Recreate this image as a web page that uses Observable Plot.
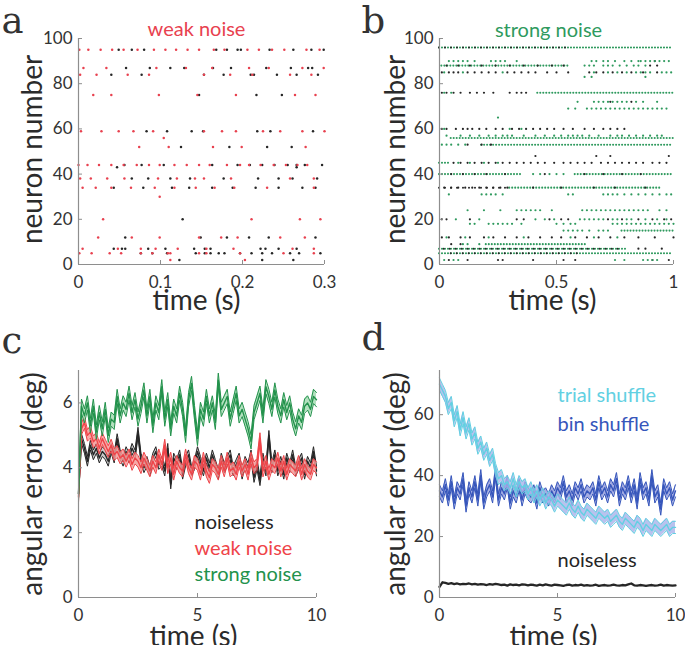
<!DOCTYPE html>
<html><head><meta charset="utf-8">
<script src="https://cdn.jsdelivr.net/npm/d3@7"></script>
<script src="https://cdn.jsdelivr.net/npm/@observablehq/plot@0.6"></script>
<style>
html,body{margin:0;padding:0;background:#fff;}
#fig{position:relative;width:685px;height:645px;overflow:hidden;background:#fff;}
.panel{position:absolute;}
.panel svg{max-width:none;display:block;}
</style></head><body><div id="fig"></div>
<script>
// ---------- Panel a: raster, weak noise (time 0..0.3 s) ----------
const aNeurons = [95, 87, 84, 75, 59, 56, 52, 44, 43, 38, 34, 30, 20, 12, 7, 5, 2];
const aBlack = [
  [0.049, 0.065, 0.080, 0.168, 0.181, 0.194, 0.198, 0.233, 0.262, 0.284, 0.299],
  [0.058, 0.087, 0.112, 0.129, 0.164, 0.186, 0.229, 0.259, 0.280, 0.285],
  [0.040, 0.077, 0.153, 0.177, 0.210, 0.214, 0.242, 0.266, 0.292],
  [0.147, 0.217, 0.248],
  [0.083, 0.108, 0.138, 0.152, 0.218, 0.234, 0.286],
  [],
  [0.125, 0.184, 0.230, 0.260],
  [0.056, 0.077, 0.104, 0.163, 0.194, 0.209, 0.224, 0.239, 0.255, 0.266, 0.276, 0.297],
  [0.047, 0.266],
  [0.065, 0.085, 0.112, 0.136, 0.177, 0.219, 0.244, 0.261, 0.291],
  [0.043, 0.079, 0.114, 0.135, 0.163, 0.188, 0.216, 0.244, 0.273, 0.289],
  [],
  [0.127],
  [0.057, 0.149, 0.181, 0.208, 0.232, 0.289],
  [0.043, 0.053, 0.057, 0.085, 0.106, 0.141, 0.154, 0.161, 0.222, 0.228, 0.244, 0.266],
  [0.076, 0.090, 0.108, 0.143, 0.154, 0.161, 0.171, 0.178, 0.197, 0.211, 0.224, 0.236, 0.258, 0.269, 0.295],
  [0.123, 0.224, 0.262]
];
const aRed = [
  [0.001, 0.012, 0.027, 0.041, 0.055, 0.072, 0.092, 0.106, 0.119, 0.133, 0.147, 0.165, 0.178, 0.206, 0.220, 0.236, 0.251, 0.278, 0.294],
  [0.006, 0.034, 0.095, 0.131, 0.163, 0.208, 0.232, 0.273, 0.299],
  [0.002, 0.022, 0.060, 0.086, 0.153, 0.185, 0.212, 0.258, 0.284],
  [0.018, 0.040, 0.098, 0.145, 0.192, 0.264, 0.289],
  [0.003, 0.028, 0.049, 0.067, 0.091, 0.153, 0.175, 0.192, 0.225, 0.246, 0.273, 0.300],
  [0.104],
  [0.074, 0.110, 0.164, 0.199, 0.277],
  [0.000, 0.011, 0.025, 0.040, 0.055, 0.071, 0.086, 0.099, 0.117, 0.132, 0.147, 0.160, 0.181, 0.197, 0.208, 0.222, 0.238, 0.253, 0.267, 0.279],
  [],
  [0.002, 0.015, 0.035, 0.056, 0.097, 0.120, 0.142, 0.153, 0.186, 0.258, 0.287],
  [0.005, 0.021, 0.040, 0.064, 0.093, 0.117, 0.143, 0.166, 0.190, 0.230, 0.287],
  [0.099],
  [0.030, 0.211, 0.270, 0.295],
  [0.024, 0.065, 0.099, 0.147, 0.174, 0.194, 0.246, 0.276],
  [0.005, 0.048, 0.076, 0.094, 0.121, 0.156, 0.189, 0.261, 0.287],
  [0.001, 0.016, 0.038, 0.052, 0.076, 0.090, 0.109, 0.112, 0.147, 0.156, 0.197, 0.250, 0.287],
  [0.112, 0.203]
];
const aTicksX = [0, 0.1, 0.2, 0.3];
const rasterTicksY = [0, 20, 40, 60, 80, 100];

// ---------- Panel b: raster, strong noise (time 0..1 s) ----------
const bNeurons = [96, 90, 88, 85, 83, 76, 72, 69, 65, 60, 57, 56, 53, 48, 45, 40, 34, 31, 24, 20, 18, 15, 12, 9, 7, 5, 2];
const bGreen = [
  [],
  [0.04, 0.06, 0.08, 0.10, 0.12, 0.15, 0.22, 0.24, 0.26, 0.28, 0.33, 0.65, 0.67, 0.70, 0.72, 0.75, 0.79, 0.82, 0.85, 0.86, 0.88, 0.90, 0.92, 0.94, 0.96, 0.98],
  [0.62, 0.64, 0.66, 0.70, 0.72, 0.74, 0.77, 0.80, 0.83, 0.85, 0.88],
  [0.02, 0.10, 0.27, 0.66, 0.72, 0.76, 0.80, 0.84, 0.86, 0.88, 0.90, 0.95, 0.97, 0.99],
  [0.62, 0.65, 0.88],
  [0.02, 0.05],
  [0.59, 0.66, 0.68, 0.70, 0.72, 0.74, 0.76, 0.78, 0.80, 0.84, 0.87, 0.93],
  [0.55, 0.58, 0.63, 0.65, 0.67, 0.69, 0.71, 0.73, 0.75, 0.77, 0.79, 0.81, 0.83, 0.85, 0.87, 0.89, 0.91, 0.93, 0.95, 0.97],
  [0.25],
  [0.02, 0.30, 0.35],
  [0.03, 0.09, 0.13, 0.17, 0.21, 0.24, 0.27, 0.29, 0.31, 0.36, 0.41, 0.45, 0.49, 0.52, 0.55, 0.57, 0.59, 0.61, 0.64, 0.68, 0.73, 0.76, 0.78, 0.81, 0.84, 0.87, 0.90, 0.93, 0.95],
  [],
  [0.01, 0.03, 0.05, 0.08, 0.11],
  [],
  [0.08, 0.13, 0.19, 0.25],
  [0.40, 0.43, 0.47, 0.50, 0.53],
  [],
  [0.04, 0.18, 0.20, 0.22, 0.24, 0.27, 0.55, 0.57, 0.70, 0.72, 0.74, 0.76, 0.79, 0.82, 0.85, 0.88, 0.91, 0.94, 0.97, 0.99],
  [0.12, 0.19, 0.26, 0.33, 0.35, 0.37, 0.39, 0.41, 0.43, 0.48, 0.61, 0.63, 0.65, 0.67, 0.69, 0.71, 0.73, 0.75, 0.77, 0.79, 0.81, 0.83, 0.85, 0.87, 0.89, 0.94, 0.97],
  [0.07, 0.17, 0.41, 0.45, 0.49, 0.60, 0.62, 0.64, 0.66, 0.68, 0.70, 0.74, 0.76, 0.80, 0.82, 0.88, 0.93, 0.97],
  [0.13, 0.15, 0.21, 0.23, 0.25, 0.27, 0.29, 0.31, 0.35, 0.50, 0.53, 0.56, 0.58, 0.74, 0.76, 0.78, 0.80, 0.82, 0.84, 0.86, 0.88, 0.90, 0.92, 0.94, 0.96, 0.98, 1.0],
  [0.53, 0.55, 0.57, 0.59, 0.61, 0.64, 0.68, 0.70, 0.72],
  [0.03, 0.11, 0.21, 0.36, 0.56, 0.66, 0.76],
  [0.10, 0.12, 0.17],
  [],
  [],
  [0.02, 0.06, 0.08, 0.75, 0.79, 0.87, 0.89, 0.91, 0.93]
];
const bBlack = [
  [],
  [0.92],
  [0.03, 0.08, 0.13, 0.18, 0.24, 0.30, 0.36, 0.42, 0.48, 0.53, 0.90, 0.93],
  [0.01, 0.04, 0.06, 0.08, 0.12, 0.15, 0.18, 0.21, 0.24, 0.29, 0.32, 0.35, 0.38, 0.41, 0.46, 0.50, 0.55, 0.64, 0.67, 0.70, 0.74, 0.78, 0.82, 0.87, 0.93],
  [],
  [0.01, 0.03, 0.06, 0.09, 0.13, 0.16, 0.19, 0.23, 0.30, 0.33, 0.35, 0.37],
  [0.73, 0.82],
  [],
  [],
  [0.01, 0.03, 0.07, 0.10, 0.12, 0.14, 0.17, 0.20, 0.24, 0.27, 0.31, 0.34, 0.37, 0.40, 0.43, 0.46, 0.49, 0.53, 0.57, 0.62, 0.66, 0.70, 0.73, 0.76, 0.79],
  [],
  [],
  [0.12, 0.18, 0.22],
  [0.41, 0.67, 0.73, 0.98],
  [0.06, 0.09, 0.12, 0.15, 0.18, 0.21, 0.24, 0.27, 0.30, 0.33, 0.36, 0.39, 0.42, 0.45, 0.49, 0.53, 0.56, 0.59, 0.62, 0.65, 0.69, 0.72, 0.75, 0.78, 0.81, 0.84, 0.87, 0.91, 0.94, 0.97],
  [0.05, 0.10, 0.15, 0.20, 0.28, 0.45, 0.62, 0.70, 0.78, 0.86],
  [0.02, 0.05, 0.08, 0.11, 0.14, 0.17, 0.20, 0.23, 0.26, 0.29, 0.40, 0.52, 0.66, 0.75, 0.88],
  [],
  [],
  [0.01, 0.03, 0.13, 0.33, 0.36, 0.47, 0.52, 0.55, 0.72, 0.78, 0.85, 0.91, 0.96, 0.99],
  [],
  [],
  [0.01, 0.04, 0.09, 0.13, 0.19, 0.23, 0.28, 0.33, 0.38, 0.43, 0.48, 0.52, 0.58, 0.63, 0.68, 0.73, 0.79, 0.85, 0.92, 1.0],
  [0.05, 0.09],
  [0.85, 0.88, 0.95],
  [],
  [0.04, 0.12, 0.25, 0.27, 0.40, 0.53, 0.58, 0.91, 0.98]
];
// dense firing runs (neuron, start s, end s)
const bGreenRunNeuron = [96, 88, 76, 56, 53, 45, 40, 40, 34, 15, 9, 7, 5];
const bGreenRunStart  = [0.00, 0.01, 0.42, 0.05, 0.18, 0.00, 0.00, 0.58, 0.30, 0.78, 0.20, 0.00, 0.00];
const bGreenRunEnd    = [1.00, 0.55, 1.00, 1.00, 1.00, 0.05, 0.35, 1.00, 0.95, 1.00, 0.63, 0.80, 1.00];
const bBlackRunNeuron = [96, 34, 7, 5];
const bBlackRunStart  = [0.00, 0.00, 0.02, 0.05];
const bBlackRunEnd    = [0.55, 0.30, 0.78, 0.60];
const bTicksX = [0, 0.5, 1];

// ---------- Panel c: angular error vs time ----------
const timeC = [0,0.125,0.25,0.375,0.5,0.625,0.75,0.875,1,1.125,1.25,1.375,1.5,1.625,1.75,1.875,2,2.125,2.25,2.375,2.5,2.625,2.75,2.875,3,3.125,3.25,3.375,3.5,3.625,3.75,3.875,4,4.125,4.25,4.375,4.5,4.625,4.75,4.875,5,5.125,5.25,5.375,5.5,5.625,5.75,5.875,6,6.125,6.25,6.375,6.5,6.625,6.75,6.875,7,7.125,7.25,7.375,7.5,7.625,7.75,7.875,8,8.125,8.25,8.375,8.5,8.625,8.75,8.875,9,9.125,9.25,9.375,9.5,9.625,9.75,9.875,10];
const noiselessC = [
  3.2, 4.9, 4.6, 4.2, 4.7, 4.4, 4.6, 4.3, 4.5, 4.4,
  4.2, 4.6, 4.3, 4.9, 4.4, 4.2, 4.5, 4.3, 4.6, 4.4,
  5.1, 4.3, 4.0, 4.2, 3.9, 4.3, 4.5, 4.1, 4.2, 3.9,
  4.6, 3.5, 4.3, 4.1, 4.4, 3.8, 4.2, 4.4, 3.9, 4.1,
  4.5, 4.2, 3.9, 4.3, 4.0, 4.4, 4.1, 3.8, 4.3, 4.0,
  4.2, 4.4, 3.9, 4.1, 4.3, 3.8, 4.2, 4.0, 4.4, 3.7,
  4.1, 3.6, 4.3, 3.9, 5.0, 4.0, 4.4, 3.9, 4.2, 3.8,
  4.3, 4.0, 4.4, 3.9, 4.1, 4.3, 3.8, 4.2, 4.0, 4.5,
  3.9];
const weakC = [
  3.1, 5.2, 5.4, 5.0, 5.1, 4.8, 4.9, 4.6, 4.9, 4.7,
  4.5, 4.7, 4.4, 4.5, 4.3, 4.4, 4.2, 4.4, 4.1, 4.3,
  4.2, 4.0, 4.3, 4.1, 3.9, 4.2, 4.0, 4.4, 4.1, 4.7,
  4.0, 4.3, 3.8, 4.2, 4.0, 3.9, 4.4, 4.0, 3.8, 4.2,
  4.1, 3.8, 4.3, 3.9, 3.7, 4.1, 4.0, 3.8, 4.2, 3.9,
  4.3, 3.9, 4.0, 3.8, 4.2, 3.9, 4.1, 3.8, 4.3, 4.0,
  4.1, 4.9, 3.9, 4.2, 3.8, 4.1, 4.0, 4.3, 3.9, 4.2,
  3.8, 4.1, 4.0, 3.9, 4.2, 3.8, 4.1, 3.9, 3.8, 4.1,
  4.0];
const strongC = [
  3.2, 5.9, 5.6, 6.0, 5.3, 5.9, 5.1, 5.7, 5.2, 5.8,
  5.0, 5.5, 5.4, 6.2, 5.6, 6.0, 5.8, 6.3, 5.7, 6.1,
  5.5, 5.9, 6.4, 5.6, 6.2, 5.3, 6.0, 5.7, 6.5, 5.5,
  6.1, 5.2, 5.9, 5.6, 6.3, 5.8, 5.0, 6.1, 6.6, 5.7,
  4.9, 5.8, 5.5, 6.2, 5.6, 6.0, 5.4, 6.7, 5.8, 6.0,
  6.2, 5.5, 5.9, 6.3, 5.6, 5.8, 5.5, 5.2, 4.8, 5.7,
  6.0, 6.3, 5.6, 6.5, 6.2, 5.8, 6.4, 5.9, 5.6, 6.1,
  5.7, 6.0, 5.5, 5.2, 5.6, 5.4, 5.9, 6.0, 5.8, 6.2,
  6.1];
const semC = [0.15, 0.18, 0.22]; // noiseless, weak, strong
const cTicksX = [0, 5, 10];
const cTicksY = [0, 2, 4, 6];

// ---------- Panel d: shuffles ----------
const trialD = [
  70, 68, 66, 62, 64, 58, 61, 55, 59, 54,
  57, 52, 54, 49, 51, 47, 49, 45, 47, 42,
  39, 40, 37, 38, 36, 39, 35, 38, 36, 37,
  34, 36, 33, 35, 32, 34, 31, 33, 32, 30,
  32, 31, 30, 29, 31, 29, 28, 30, 28, 27,
  29, 28, 27, 26, 28, 27, 26, 27, 25, 26,
  27, 25, 24, 26, 25, 24, 23, 25, 24, 22,
  24, 23, 22, 24, 23, 22, 23, 24, 22, 23,
  23];
const binD = [
  35, 33, 37, 32, 38, 31, 36, 34, 39, 30,
  36, 33, 38, 32, 40, 31, 35, 37, 33, 41,
  32, 36, 34, 38, 31, 35, 33, 37, 32, 36,
  34, 33, 35, 31, 36, 33, 34, 32, 35, 33,
  36, 34, 38, 33, 35, 32, 36, 34, 37, 33,
  35, 34, 36, 32, 38, 34, 36, 33, 37, 35,
  39, 32, 36, 34, 38, 33, 37, 31, 39, 34,
  36, 32, 40, 33, 35, 29, 37, 34, 36, 32,
  35];
const noiselessD = [
  3.5, 5.0, 4.8, 4.5, 4.7, 4.4, 4.6, 4.3, 4.5, 4.4,
  4.6, 4.3, 4.5, 4.2, 4.4, 4.3, 4.1, 4.4, 4.2, 4.5,
  4.3, 4.1, 4.2, 3.9, 4.3, 4.1, 4.2, 4.0, 4.3, 4.2,
  4.0, 4.2, 4.1, 3.9, 4.2, 4.0, 4.3, 4.1, 3.9, 4.2,
  4.1, 4.0, 3.8, 4.1, 4.2, 3.9, 4.1, 4.0, 4.2, 3.9,
  4.1, 3.9, 4.0, 4.2, 3.8, 4.0, 4.1, 3.9, 4.0, 4.2,
  4.0, 3.9, 4.1, 4.0, 4.3, 4.6, 4.0, 3.9, 4.1, 4.0,
  3.8, 4.0, 4.1, 3.9, 4.0, 4.2, 3.9, 4.1, 4.0, 3.9,
  4.0];
const semD = [2.0, 2.0]; // trial, bin
const dTicksY = [0, 20, 40, 60];

// ---------- helpers ----------
const FONT = "Lato, 'Open Sans', sans-serif";
const AXIS = "#8e8e8e";
const TXT = "#2b2b2b";
const C = {black: "#262626", red: "#ef4449", redDot: "#e8414f", green: "#23924c", greenDot: "#2f9a5e",
           trial: "#62d0e2", bin: "#3656bb"};

function flatten(neurons, lists) {
  const out = [];
  neurons.forEach((n, i) => lists[i].forEach(t => out.push({n, t})));
  return out;
}
function runs(ns, ss, es) { return ns.map((n, i) => ({n, s: ss[i], e: es[i]})); }
function series(t, v, sem) { return t.map((tt, i) => ({t: tt, v: v[i], lo: v[i] - sem, hi: v[i] + sem})); }
function band(data, stroke, fill, fo, lw) {
  return [
    Plot.areaY(data, {x: "t", y1: "lo", y2: "hi", fill, fillOpacity: fo}),
    Plot.line(data, {x: "t", y: "lo", stroke, strokeWidth: 1}),
    Plot.line(data, {x: "t", y: "hi", stroke, strokeWidth: 1}),
    Plot.line(data, {x: "t", y: "v", stroke, strokeWidth: lw})
  ];
}

function panel(o) {
  const W = o.width - o.ml - o.mr, H = o.height - o.mt - o.mb;
  const fmt = d => String(d);
  const marks = [
    ...o.marks,
    Plot.ruleX([o.xDomain[0]], {stroke: AXIS, strokeWidth: 1.2}),
    Plot.ruleY([o.yDomain[0]], {stroke: AXIS, strokeWidth: 1.2}),
    Plot.tickX(o.xTicks, {x: d => d, insetTop: H - 4, stroke: AXIS}),
    Plot.tickY(o.yTicks, {y: d => d, insetRight: W - 4, stroke: AXIS}),
    Plot.axisX({ticks: o.xTicks, tickSize: 0, tickPadding: 11, fontSize: 17, color: "#333", tickFormat: fmt, label: null}),
    Plot.axisY({ticks: o.yTicks, tickSize: 0, tickPadding: 6, fontSize: 17, color: "#333", tickFormat: fmt, label: null}),
    Plot.text([o.xLabel], {text: d => d, frameAnchor: "bottom", textAnchor: "middle", lineAnchor: "bottom", dx: o.xLabelDx, dy: o.xLabelDy, fontSize: 28, fill: TXT}),
    Plot.text([o.yLabel], {text: d => d, frameAnchor: "left", textAnchor: "middle", lineAnchor: "middle", rotate: -90, dx: o.yLabelDx, dy: o.yLabelDy || 0, fontSize: 28, fill: TXT}),
    Plot.text([o.letter], {text: d => d, frameAnchor: "top-left", textAnchor: "start", lineAnchor: "bottom",
      dx: o.letterDx, dy: o.letterDy, fontSize: 37, fontFamily: "'DejaVu Serif', 'Liberation Serif', serif", fill: "#333"}),
    ...(o.texts || [])
  ];
  const svg = Plot.plot({
    width: o.width, height: o.height,
    marginTop: o.mt, marginRight: o.mr, marginBottom: o.mb, marginLeft: o.ml,
    x: {domain: o.xDomain}, y: {domain: o.yDomain},
    style: {fontFamily: FONT, background: "transparent", overflow: "visible"},
    marks
  });
  const div = document.createElement("div");
  div.className = "panel";
  div.style.left = o.left + "px"; div.style.top = o.top + "px";
  div.appendChild(svg);
  document.getElementById("fig").appendChild(div);
}
function label(str, color, dx, dy, size = 20, anchor = "top-left", ta = "start") {
  return Plot.text([str], {text: d => d, frameAnchor: anchor, textAnchor: ta, lineAnchor: "bottom", dx, dy, fontSize: size, fill: color});
}

// ---------- Panel a ----------
panel({
  left: 0, top: 0, width: 340, height: 320, mt: 38, mr: 16, mb: 56, ml: 78,
  xDomain: [0, 0.3], yDomain: [0, 100], xTicks: aTicksX, yTicks: rasterTicksY,
  xLabel: "time (s)", xLabelDx: -5, xLabelDy: 45,
  yLabel: "neuron number", yLabelDx: -45, yLabelDy: -2,
  letter: "a", letterDx: -77, letterDy: -6,
  marks: [
    Plot.dot(flatten(aNeurons, aBlack), {x: "t", y: "n", r: 1.25, fill: C.black}),
    Plot.dot(flatten(aNeurons, aRed), {x: "t", y: "n", r: 1.25, fill: C.redDot})
  ],
  texts: [label("weak noise", C.redDot, -5, -3, 20, "top", "middle")]
});

// ---------- Panel b ----------
panel({
  left: 340, top: 0, width: 345, height: 320, mt: 38, mr: 12, mb: 56, ml: 99,
  xDomain: [0, 1], yDomain: [0, 100], xTicks: bTicksX, yTicks: rasterTicksY,
  xLabel: "time (s)", xLabelDx: -4, xLabelDy: 45,
  yLabel: "neuron number", yLabelDx: -43, yLabelDy: -2,
  letter: "b", letterDx: -78, letterDy: -6,
  marks: [
    Plot.ruleY(runs(bGreenRunNeuron, bGreenRunStart, bGreenRunEnd), {y: "n", x1: "s", x2: "e", stroke: C.greenDot, strokeWidth: 2.1, strokeDasharray: "0 3", strokeLinecap: "round"}),
    Plot.ruleY(runs(bBlackRunNeuron, bBlackRunStart, bBlackRunEnd), {y: "n", x1: "s", x2: "e", stroke: C.black, strokeWidth: 2.0, strokeDasharray: "0 6", strokeLinecap: "round"}),
    Plot.dot(flatten(bNeurons, bBlack), {x: "t", y: "n", r: 1.1, fill: C.black}),
    Plot.dot(flatten(bNeurons, bGreen), {x: "t", y: "n", r: 1.1, fill: C.greenDot})
  ],
  texts: [label("strong noise", C.greenDot, -8, -2, 20, "top", "middle")]
});

// ---------- Panel c ----------
panel({
  left: 0, top: 320, width: 340, height: 325, mt: 50, mr: 24, mb: 48, ml: 78,
  xDomain: [0, 10], yDomain: [0, 7], xTicks: cTicksX, yTicks: cTicksY,
  xLabel: "time (s)", xLabelDx: -4, xLabelDy: 48,
  yLabel: "angular error (deg)", yLabelDx: -45,
  letter: "c", letterDx: -77, letterDy: -18,
  marks: [
    ...band(series(timeC, noiselessC, semC[0]), C.black, "#bdbdbd", 0.8, 1.4),
    ...band(series(timeC, weakC, semC[1]), C.red, "#f59a98", 0.85, 1.4),
    ...band(series(timeC, strongC, semC[2]), C.green, "#a6dcb4", 0.85, 1.4)
  ],
  texts: [
    label("noiseless", C.black, 116, 158),
    label("weak noise", C.red, 116, 184),
    label("strong noise", C.green, 116, 210)
  ]
});

// ---------- Panel d ----------
panel({
  left: 340, top: 320, width: 345, height: 325, mt: 50, mr: 10, mb: 48, ml: 99,
  xDomain: [0, 10], yDomain: [0, 74.5], xTicks: cTicksX, yTicks: dTicksY,
  xLabel: "time (s)", xLabelDx: -4, xLabelDy: 48,
  yLabel: "angular error (deg)", yLabelDx: -43,
  letter: "d", letterDx: -78, letterDy: -21,
  marks: [
    ...band(series(timeC, binD, semD[1]), C.bin, "#8f98dc", 0.8, 1.4),
    ...band(series(timeC, trialD, semD[0]), C.trial, "#a7b3ea", 0.8, 1.4),
    Plot.line(series(timeC, noiselessD, 0), {x: "t", y: "v", stroke: C.black, strokeWidth: 2.3})
  ],
  texts: [
    label("trial shuffle", C.trial, 118, 31),
    label("bin shuffle", C.bin, 118, 60),
    label("noiseless", C.black, 118, 196)
  ]
});
</script></body></html>
